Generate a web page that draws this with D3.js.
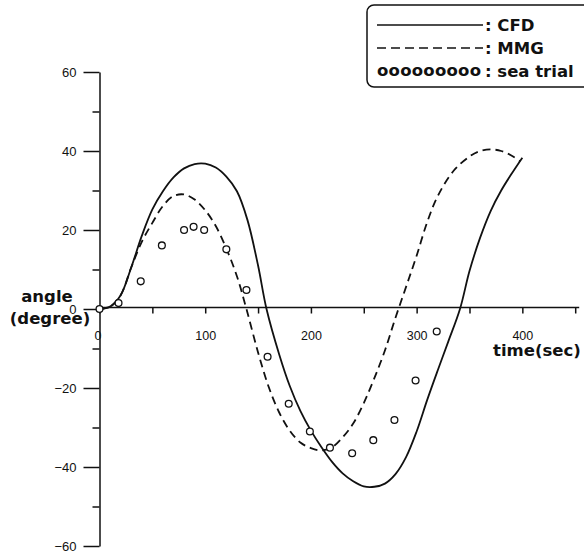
<!DOCTYPE html>
<html>
<head>
<meta charset="utf-8">
<script src="https://cdn.jsdelivr.net/npm/d3@7"></script>
<style>
  html, body { margin: 0; padding: 0; background: #fff; }
  svg { display: block; }
  .tick text { font-family: "Liberation Sans", Arial, sans-serif; fill: #111; }
  .big { font-family: "DejaVu Sans", sans-serif; font-weight: bold; fill: #111; }
</style>
</head>
<body>
<svg id="chart" width="584" height="555"></svg>
<script>
// time (sec) / angle (degree)
const cfdTime  = [0, 10, 20, 30, 40, 50, 60, 70, 80, 90, 100, 110, 120, 130, 140, 150, 158, 170, 180, 190, 200, 210, 220, 230, 240, 250, 260, 270, 280, 290, 300, 310, 320, 330, 341, 350, 360, 370, 380, 390, 400];
const cfdAngle = [0, 0.6, 3.5, 10.5, 18.5, 25.2, 29.8, 33.3, 35.6, 36.7, 36.8, 35.8, 33.5, 29.8, 22.5, 11, 0, -11.5, -19.5, -25.8, -30.8, -35, -38.7, -41.6, -43.6, -44.9, -45, -44.2, -41.8, -37.5, -31, -23, -15.5, -8.2, 0, 9.6, 18, 24.8, 30, 34.3, 38.3];

const mmgTime  = [0, 10, 20, 30, 40, 50, 60, 70, 80, 90, 100, 110, 120, 130, 139, 150, 160, 170, 180, 190, 200, 210, 220, 230, 240, 250, 260, 270, 280, 290, 300, 310, 320, 335, 350, 360, 370, 380, 390, 398];
const mmgAngle = [0, 0.6, 3.5, 10.5, 17, 21.8, 26.1, 28.6, 29, 27.7, 25, 21, 15.3, 8.3, 0, -11, -19.7, -26.2, -30.8, -33.8, -35.2, -35.8, -35, -32.5, -29, -23.8, -17.5, -10.5, -2.2, 5.6, 13.5, 22, 28.6, 35, 38.6, 40, 40.4, 40, 38.8, 37.4];

const seaTime  = [0, 18, 39, 59, 80, 89, 99, 120, 139, 159, 179, 199, 218, 239, 259, 279, 299, 319];
const seaAngle = [0, 1.5, 7, 16.1, 20, 20.8, 20, 15.1, 4.8, -12.1, -24, -31, -35.1, -36.5, -33.2, -28.1, -18.1, -5.7];

const xTicks = [0, 50, 100, 150, 200, 250, 300, 350, 400, 450];
const xLabels = [0, 100, 200, 300, 400];
const yMajor = [-60, -40, -20, 0, 20, 40, 60];
const yMinor = [-50, -30, -10, 10, 30, 50];

const legendItems = [": CFD", ": MMG", ": sea trial"];

const svg = d3.select("#chart");

const x = d3.scaleLinear().domain([0, 450]).range([99.5, 575.2]);
const y = d3.scaleLinear().domain([-60, 60]).range([546, 72]);

// x axis through y = 0
const xAxis = svg.append("g")
  .attr("transform", `translate(0,${y(0) - 1.5})`)
  .call(d3.axisBottom(x)
    .tickValues(xTicks)
    .tickSize(6)
    .tickSizeOuter(0)
    .tickFormat(d => xLabels.includes(d) ? d : ""));
xAxis.select(".domain").attr("stroke", "#111").attr("stroke-width", 1.5)
  .attr("d", `M${x(0)},0H${x(450) + 4}`);
xAxis.selectAll(".tick line").attr("stroke", "#111").attr("stroke-width", 1.5);
xAxis.selectAll(".tick text").attr("font-size", 12.5).attr("dy", "1.9em")
  .attr("dx", d => d === 0 ? -2 : 0);

// y axis with major and minor ticks
const yAxis = svg.append("g")
  .attr("transform", `translate(${x(0)},0)`)
  .call(d3.axisLeft(y).tickValues(yMajor).tickSize(16).tickSizeOuter(0).tickPadding(7));
yAxis.select(".domain").attr("stroke", "#111").attr("stroke-width", 1.5);
yAxis.selectAll(".tick line").attr("stroke", "#111").attr("stroke-width", 1.5);
yAxis.selectAll(".tick text").attr("font-size", 13);

const yMinorAxis = svg.append("g")
  .attr("transform", `translate(${x(0)},0)`)
  .call(d3.axisLeft(y).tickValues(yMinor).tickSize(7).tickFormat(""));
yMinorAxis.select(".domain").remove();
yMinorAxis.selectAll(".tick line").attr("stroke", "#111").attr("stroke-width", 1.5);

// curves
const line = d3.line()
  .x(d => x(d[0]))
  .y(d => y(d[1]))
  .curve(d3.curveCatmullRom.alpha(0.5));

svg.append("path")
  .datum(d3.zip(cfdTime, cfdAngle))
  .attr("fill", "none")
  .attr("stroke", "#111")
  .attr("stroke-width", 1.8)
  .attr("d", line);

svg.append("path")
  .datum(d3.zip(mmgTime, mmgAngle))
  .attr("fill", "none")
  .attr("stroke", "#111")
  .attr("stroke-width", 1.8)
  .attr("stroke-dasharray", "8,5")
  .attr("d", line);

svg.selectAll("circle.sea")
  .data(d3.zip(seaTime, seaAngle))
  .enter().append("circle")
  .attr("class", "sea")
  .attr("cx", d => x(d[0]))
  .attr("cy", d => y(d[1]))
  .attr("r", 3.4)
  .attr("fill", "#fff")
  .attr("stroke", "#111")
  .attr("stroke-width", 1.3);

// axis titles
svg.append("text").attr("class", "big")
  .attr("x", 47).attr("y", 302)
  .attr("text-anchor", "middle").attr("font-size", 16.5)
  .text("angle");
svg.append("text").attr("class", "big")
  .attr("x", 50).attr("y", 324)
  .attr("text-anchor", "middle").attr("font-size", 16.5)
  .text("(degree)");
svg.append("text").attr("class", "big")
  .attr("x", 493).attr("y", 356)
  .attr("font-size", 16.5)
  .text("time(sec)");

// legend
const legend = svg.append("g");
legend.append("rect")
  .attr("x", 367).attr("y", 5)
  .attr("width", 240).attr("height", 82)
  .attr("rx", 7)
  .attr("fill", "#fff")
  .attr("stroke", "#111")
  .attr("stroke-width", 1.5);

legend.append("line")
  .attr("x1", 377).attr("x2", 483).attr("y1", 25).attr("y2", 25)
  .attr("stroke", "#111").attr("stroke-width", 1.5);
legend.append("line")
  .attr("x1", 377).attr("x2", 483).attr("y1", 48).attr("y2", 48)
  .attr("stroke", "#111").attr("stroke-width", 1.5)
  .attr("stroke-dasharray", "9,5");
legend.append("text").attr("class", "big")
  .attr("x", 377).attr("y", 76)
  .attr("font-size", 16.5)
  .attr("textLength", 104)
  .text("ooooooooo");

legend.selectAll("text.lab")
  .data(legendItems)
  .enter().append("text")
  .attr("class", "big lab")
  .attr("x", 485)
  .attr("y", (d, i) => [31, 54, 77][i])
  .attr("font-size", 16.5)
  .text(d => d);
</script>
</body>
</html>
